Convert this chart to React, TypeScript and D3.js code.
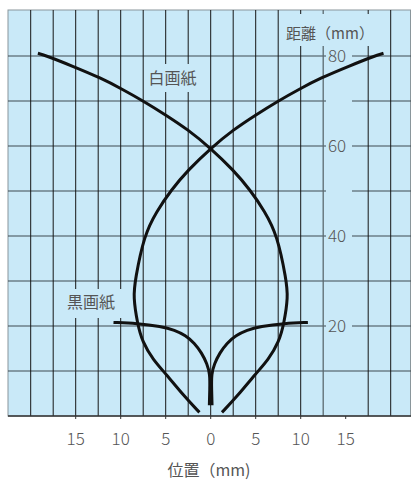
import React from "react";
import * as d3 from "d3";

// 白画紙: right-lobe branch, then up-left past the crossing (left branch is mirrored)
const whiteX = [1.25, 3.0, 5.0, 6.4, 7.6, 8.15, 8.6, 8.4, 7.4, 6.0, 4.4, 2.5, 0, -2.5, -5.0, -7.4, -9.8, -12.2, -15.3, -18.2, -19.2];
const whiteY = [0.8, 4.5, 9.4, 12.5, 16.5, 20.6, 26.5, 30.2, 40.2, 45.5, 50.2, 54.7, 59.5, 63.6, 66.9, 69.9, 72.6, 75.1, 77.7, 80, 80.6];

// 黒画紙: right branch (left mirrored)
const blackX = [0.15, 0.1, 0.08, 0.4, 1.0, 1.8, 2.8, 4.0, 5.5, 8.2, 10.8];
const blackY = [2.4, 6.0, 9.3, 11.6, 14.0, 16.2, 17.9, 19.1, 19.9, 20.6, 20.8];

const xTicks = [-15, -10, -5, 0, 5, 10, 15];
const yTicks = [20, 40, 60, 80];
const gridXs = [-20, -17.5, -15, -12.5, -10, -7.5, -5, -2.5, 0, 2.5, 5, 7.5, 10, 17.5, 20];
const gridYs = [10, 20, 30, 40, 50, 60, 70, 80];
const gappedYs = [20, 40, 50, 60, 70, 80];
const axisX = 12.5;

const W = 411;
const H = 480;
const left = 8;
const top = 10;
const bottom = 416;

const x = d3.scaleLinear().domain([-22.5, 22.5]).range([8.2, 413.2]);
const y = d3.scaleLinear().domain([0, 90]).range([bottom, 11]);

const line = d3
  .line<[number, number]>()
  .x((d) => x(d[0]))
  .y((d) => y(d[1]))
  .curve(d3.curveBasis);

const pts = (xs: number[], ys: number[], s: number): [number, number][] =>
  xs.map((v, i) => [v * s, ys[i]]);

const BG = "#c9e9f8";
const TXT = "#555";
const FONT = "'Noto Sans CJK JP', 'Noto Sans', sans-serif";

export default function App() {
  const gapL = 326;
  const gapR = 352;
  return (
    <svg
      width={W}
      height={H}
      style={{ position: "absolute", left: 0, top: 0, background: "#fff" }}
      fontFamily={FONT}
    >
      <rect x={left} y={top} width={W - left - 0.5} height={bottom - top} fill={BG} stroke="#8a969b" strokeWidth={1} />

      {/* horizontal grid */}
      {gridYs.map((v) =>
        gappedYs.includes(v) ? (
          <g key={"h" + v}>
            <line x1={left} x2={gapL} y1={y(v)} y2={y(v)} stroke="#3e4b51" strokeWidth={1.2} />
            <line x1={gapR} x2={W} y1={y(v)} y2={y(v)} stroke="#3e4b51" strokeWidth={1.2} />
          </g>
        ) : (
          <line key={"h" + v} x1={left} x2={W} y1={y(v)} y2={y(v)} stroke="#3e4b51" strokeWidth={1.2} />
        )
      )}

      {/* vertical grid */}
      {gridXs.map((v) => (
        <line key={"v" + v} x1={x(v)} x2={x(v)} y1={top} y2={bottom} stroke="#161616" strokeWidth={1} />
      ))}
      <line x1={x(axisX)} x2={x(axisX)} y1={top} y2={bottom} stroke="#5b6a70" strokeWidth={1.3} />

      {/* bottom edge and ticks */}
      <line x1={left} x2={W} y1={bottom} y2={bottom} stroke="#333" strokeWidth={1.3} />
      {xTicks.map((v) => (
        <line key={"t" + v} x1={x(v)} x2={x(v)} y1={bottom} y2={bottom + 3} stroke="#333" strokeWidth={1} />
      ))}

      {/* label boxes */}
      <rect x={284} y={14} width={93} height={32} fill={BG} />
      <rect x={145} y={64} width={56} height={28} fill={BG} />
      <rect x={62} y={289} width={60} height={29} fill={BG} />

      {/* curves */}
      {[1, -1].map((s) => (
        <g key={"c" + s} fill="none" stroke="#111" strokeWidth={3}>
          <path d={line(pts(whiteX, whiteY, s)) || ""} />
          <path d={line(pts(blackX, blackY, s)) || ""} />
        </g>
      ))}

      {/* labels */}
      <text x={330} y={35} fontSize={15} fill={TXT} textAnchor="middle" dominantBaseline="middle">
        距離（mm）
      </text>
      <text x={172.5} y={79.5} fontSize={16} fill={TXT} textAnchor="middle" dominantBaseline="middle">
        白画紙
      </text>
      <text x={91} y={304} fontSize={16} fill={TXT} textAnchor="middle" dominantBaseline="middle">
        黒画紙
      </text>

      {yTicks.map((v) => (
        <text key={"yl" + v} x={337} y={y(v) + 1} fontSize={17} fontWeight={300} fill={TXT} textAnchor="middle" dominantBaseline="middle">
          {v}
        </text>
      ))}
      {xTicks.map((v) => (
        <text key={"xl" + v} x={x(v)} y={440} fontSize={17} fontWeight={300} fill={TXT} textAnchor="middle" dominantBaseline="middle">
          {Math.abs(v)}
        </text>
      ))}
      <text x={209} y={472} fontSize={16} fill={TXT} textAnchor="middle" dominantBaseline="middle">
        位置（mm)
      </text>
    </svg>
  );
}
